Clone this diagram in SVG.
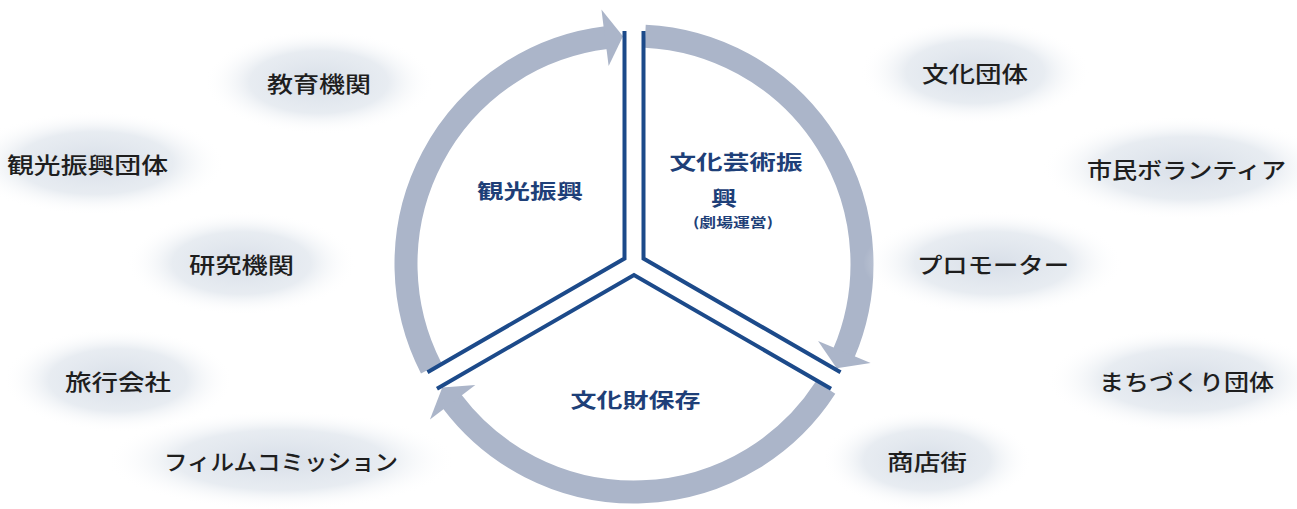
<svg xmlns="http://www.w3.org/2000/svg" width="1297" height="509" viewBox="0 0 1297 509">
<defs>
<radialGradient id="blob" cx="50%" cy="50%" r="50%">
<stop offset="0" stop-color="#d6dde7" stop-opacity="0.95"/>
<stop offset="0.6" stop-color="#e0e6ed" stop-opacity="0.75"/>
<stop offset="1" stop-color="#ffffff" stop-opacity="0"/>
</radialGradient>
<style>
.band{fill:none;stroke:#abb5c9;stroke-width:23;stroke-linecap:butt}
.head{fill:#abb5c9}
.spoke{fill:none;stroke:#1c4a8a;stroke-width:4;stroke-linejoin:miter;stroke-linecap:butt}
.blob{fill:url(#blob)}
.lbl{font-family:"Noto Sans CJK JP","Noto Sans CJK SC",sans-serif;font-size:22px;font-weight:500;fill:#1e1e1e;text-anchor:middle;dominant-baseline:central}
.seg{font-family:"Noto Sans CJK JP","Noto Sans CJK SC",sans-serif;font-size:20px;font-weight:bold;fill:#1e3f78;text-anchor:middle;dominant-baseline:central}
.sub{font-family:"Noto Sans CJK JP","Noto Sans CJK SC",sans-serif;font-size:13px;font-weight:bold;fill:#1e3f78;text-anchor:middle;dominant-baseline:central}
</style>
</defs>
<rect width="1297" height="509" fill="#ffffff"/>

<g id="connectors">
<g id="arrow-kanko">
<path class="band" d="M431.2 368.2 A228 228 0 0 1 606.21 37.7"/>
<polygon class="head" points="608.65,66.12 601.41,9.58 622.98,36.27"/>
</g>
<g id="arrow-bunka" transform="rotate(120 634 264)">
<path class="band" d="M431.2 368.2 A228 228 0 0 1 606.21 37.7"/>
<polygon class="head" points="608.65,66.12 601.41,9.58 622.98,36.27"/>
</g>
<g id="arrow-bunkazai" transform="rotate(240 634 264)">
<path class="band" d="M431.2 368.2 A228 228 0 0 1 606.21 37.7"/>
<polygon class="head" points="608.65,66.12 601.41,9.58 622.98,36.27"/>
</g>
<g id="spokes">
<path class="spoke" d="M624.5 31 V258.5 L427.47 372.27"/>
<path class="spoke" d="M624.5 31 V258.5 L427.47 372.27" transform="rotate(120 634 264)"/>
<path class="spoke" d="M624.5 31 V258.5 L427.47 372.27" transform="rotate(240 634 264)"/>
</g>
</g>

<g id="seg-kanko"><text class="seg" x="530" y="190" textLength="106" lengthAdjust="spacingAndGlyphs">観光振興</text></g>
<g id="seg-bunka">
<text class="seg" x="736" y="161" textLength="133" lengthAdjust="spacingAndGlyphs">文化芸術振</text>
<text class="seg" x="724" y="197" textLength="26" lengthAdjust="spacingAndGlyphs">興</text>
<text class="sub" x="733" y="221" textLength="80" lengthAdjust="spacingAndGlyphs">(劇場運営)</text>
</g>
<g id="seg-bunkazai"><text class="seg" x="635.5" y="399" textLength="130" lengthAdjust="spacingAndGlyphs">文化財保存</text></g>

<g id="n-kyoiku"><ellipse class="blob" cx="319" cy="82" rx="115" ry="52"/><text class="lbl" x="319" y="82" textLength="104" lengthAdjust="spacingAndGlyphs">教育機関</text></g>
<g id="n-kankodantai"><ellipse class="blob" cx="95" cy="163" rx="130" ry="52"/><text class="lbl" x="87.5" y="163" textLength="161" lengthAdjust="spacingAndGlyphs">観光振興団体</text></g>
<g id="n-kenkyu"><ellipse class="blob" cx="241.5" cy="263" rx="115" ry="52"/><text class="lbl" x="241.5" y="263" textLength="105" lengthAdjust="spacingAndGlyphs">研究機関</text></g>
<g id="n-ryoko"><ellipse class="blob" cx="118" cy="380" rx="115" ry="52"/><text class="lbl" x="118" y="380" textLength="106" lengthAdjust="spacingAndGlyphs">旅行会社</text></g>
<g id="n-film"><ellipse class="blob" cx="281" cy="460" rx="175" ry="50"/><text class="lbl" x="281" y="460" textLength="234" lengthAdjust="spacingAndGlyphs">フィルムコミッション</text></g>
<g id="n-bunkadantai"><ellipse class="blob" cx="975" cy="72" rx="115" ry="52"/><text class="lbl" x="975" y="72" textLength="106" lengthAdjust="spacingAndGlyphs">文化団体</text></g>
<g id="n-shimin"><ellipse class="blob" cx="1186.5" cy="168" rx="145" ry="52"/><text class="lbl" x="1186.5" y="168" textLength="199" lengthAdjust="spacingAndGlyphs">市民ボランティア</text></g>
<g id="n-promoter"><ellipse class="blob" cx="993" cy="263" rx="130" ry="52"/><text class="lbl" x="993" y="263" textLength="152" lengthAdjust="spacingAndGlyphs">プロモーター</text></g>
<g id="n-machi"><ellipse class="blob" cx="1186.5" cy="380" rx="140" ry="52"/><text class="lbl" x="1186.5" y="380" textLength="175" lengthAdjust="spacingAndGlyphs">まちづくり団体</text></g>
<g id="n-shotengai"><ellipse class="blob" cx="927" cy="460" rx="105" ry="50"/><text class="lbl" x="927" y="460" textLength="80" lengthAdjust="spacingAndGlyphs">商店街</text></g>
</svg>
